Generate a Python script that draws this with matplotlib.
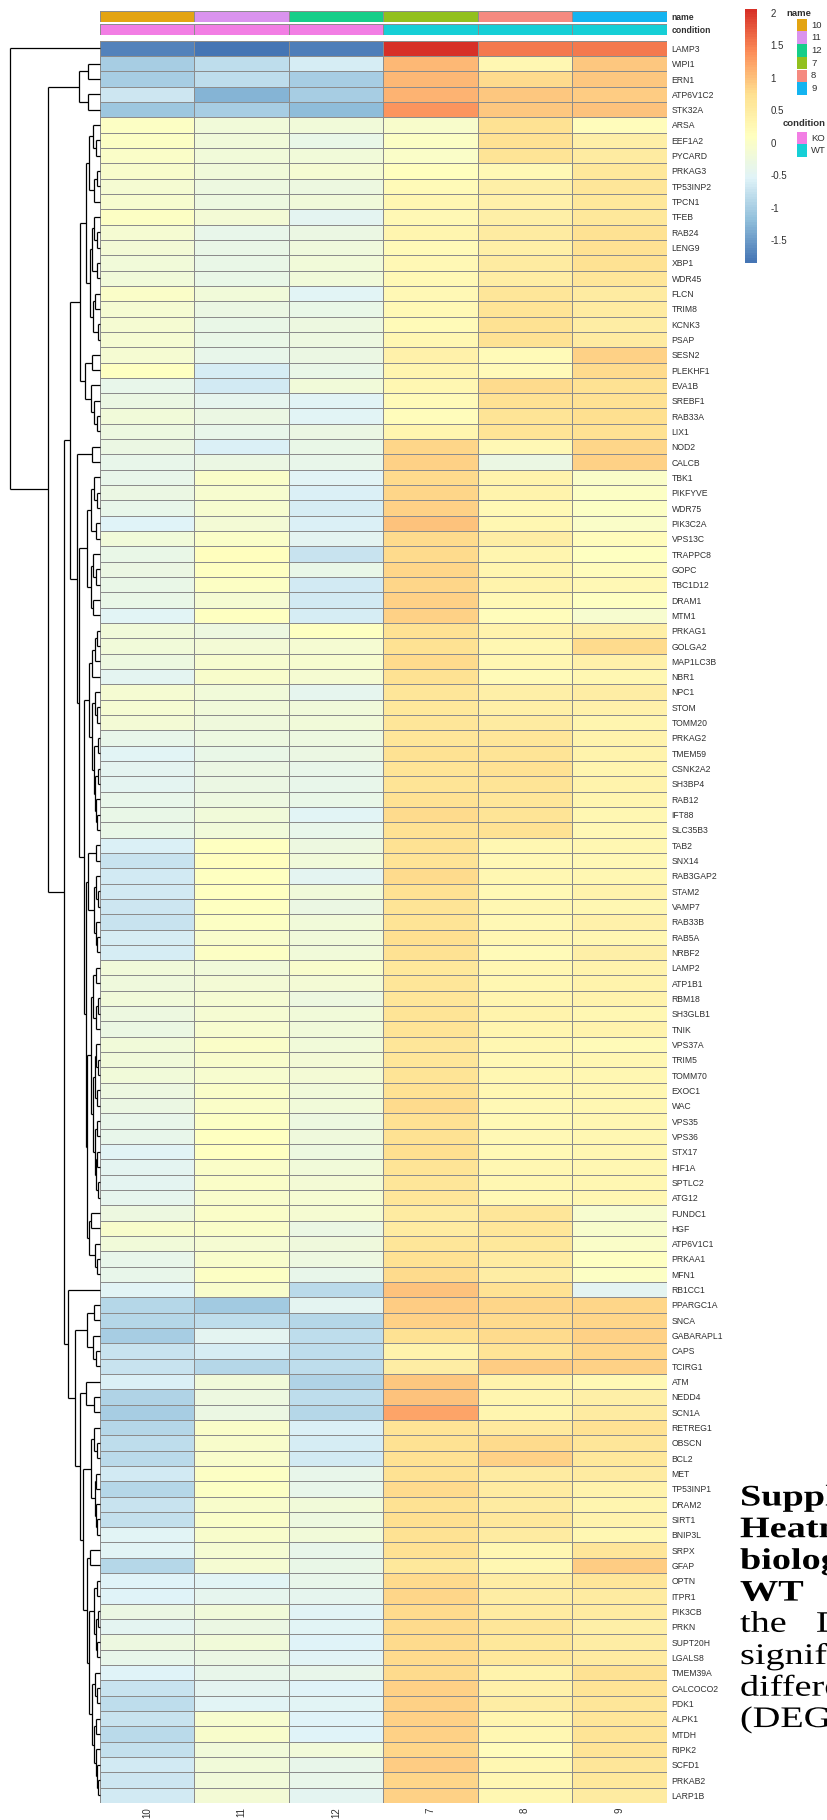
import numpy as np
import matplotlib
matplotlib.use("Agg")
import matplotlib.pyplot as plt
from matplotlib import patheffects
from matplotlib.colors import LinearSegmentedColormap, ListedColormap, Normalize
from matplotlib.cm import ScalarMappable
from matplotlib.patches import Rectangle
from matplotlib.transforms import Affine2D

plt.rcParams["font.family"] = ["Liberation Sans", "DejaVu Sans"]

genes = [
    "LAMP3", "WIPI1", "ERN1", "ATP6V1C2", "STK32A", "ARSA", "EEF1A2", "PYCARD",
    "PRKAG3", "TP53INP2", "TPCN1", "TFEB", "RAB24", "LENG9", "XBP1", "WDR45",
    "FLCN", "TRIM8", "KCNK3", "PSAP", "SESN2", "PLEKHF1", "EVA1B", "SREBF1",
    "RAB33A", "LIX1", "NOD2", "CALCB", "TBK1", "PIKFYVE", "WDR75", "PIK3C2A",
    "VPS13C", "TRAPPC8", "GOPC", "TBC1D12", "DRAM1", "MTM1", "PRKAG1", "GOLGA2",
    "MAP1LC3B", "NBR1", "NPC1", "STOM", "TOMM20", "PRKAG2", "TMEM59", "CSNK2A2",
    "SH3BP4", "RAB12", "IFT88", "SLC35B3", "TAB2", "SNX14", "RAB3GAP2", "STAM2",
    "VAMP7", "RAB33B", "RAB5A", "NRBF2", "LAMP2", "ATP1B1", "RBM18", "SH3GLB1",
    "TNIK", "VPS37A", "TRIM5", "TOMM70", "EXOC1", "WAC", "VPS35", "VPS36",
    "STX17", "HIF1A", "SPTLC2", "ATG12", "FUNDC1", "HGF", "ATP6V1C1", "PRKAA1",
    "MFN1", "RB1CC1", "PPARGC1A", "SNCA", "GABARAPL1", "CAPS", "TCIRG1", "ATM",
    "NEDD4", "SCN1A", "RETREG1", "OBSCN", "BCL2", "MET", "TP53INP1", "DRAM2",
    "SIRT1", "BNIP3L", "SRPX", "GFAP", "OPTN", "ITPR1", "PIK3CB", "PRKN",
    "SUPT20H", "LGALS8", "TMEM39A", "CALCOCO2", "PDK1", "ALPK1", "MTDH", "RIPK2",
    "SCFD1", "PRKAB2", "LARP1B",
]

samples = ["10", "11", "12", "7", "8", "9"]
name_colors = ["#E3A412", "#DA93EE", "#16CE89", "#92C01E", "#F58A80", "#14B4F0"]
conditions = ["KO", "KO", "KO", "WT", "WT", "WT"]
condition_levels = ["KO", "WT"]
condition_colors = ["#F27EE4", "#16CFD6"]

# expression per sample column, rows in gene order
s10 = [-1.7, -1.0, -1.0, -0.7, -1.1, 0.05, 0.05, 0.0, -0.05, -0.1,
       -0.08, 0.05, -0.12, -0.15, -0.18, -0.2, 0.0, -0.1, -0.1, -0.12,
       -0.1, 0.08, -0.38, -0.32, -0.18, -0.28, -0.3, -0.4, -0.38, -0.32,
       -0.38, -0.55, -0.2, -0.33, -0.32, -0.35, -0.35, -0.5, -0.18, -0.2,
       -0.28, -0.45, -0.1, -0.12, -0.15, -0.38, -0.5, -0.48, -0.45, -0.4,
       -0.35, -0.35, -0.58, -0.72, -0.66, -0.67, -0.7, -0.72, -0.63, -0.6,
       -0.18, -0.22, -0.2, -0.28, -0.32, -0.18, -0.18, -0.2, -0.25, -0.3,
       -0.38, -0.4, -0.5, -0.48, -0.45, -0.42, -0.25, -0.02, -0.2, -0.4,
       -0.4, -0.5, -0.9, -0.9, -1.0, -0.75, -0.75, -0.57, -0.92, -1.0,
       -0.9, -0.82, -0.85, -0.67, -0.88, -0.72, -0.78, -0.5, -0.5, -0.88,
       -0.55, -0.55, -0.3, -0.48, -0.28, -0.4, -0.55, -0.73, -0.8, -0.75,
       -0.85, -0.77, -0.65, -0.7, -0.67]
s11 = [-1.85, -0.8, -0.8, -1.3, -1.0, -0.2, -0.2, -0.2, -0.2, -0.28,
       -0.28, -0.15, -0.4, -0.35, -0.35, -0.33, -0.2, -0.3, -0.33, -0.35,
       -0.38, -0.62, -0.65, -0.42, -0.32, -0.37, -0.58, -0.32, 0.0, -0.08,
       -0.08, -0.15, 0.0, 0.12, 0.1, 0.05, -0.1, 0.08, -0.28, -0.15,
       -0.08, -0.05, -0.18, -0.18, -0.22, -0.28, -0.33, -0.3, -0.32, -0.28,
       -0.2, -0.18, 0.1, 0.12, 0.08, 0.1, 0.08, 0.05, -0.05, 0.05,
       -0.2, -0.15, -0.1, -0.1, -0.08, 0.0, -0.02, -0.08, 0.0, 0.0,
       0.05, 0.07, 0.07, 0.0, 0.0, -0.02, 0.0, 0.0, -0.1, -0.02,
       0.05, -0.05, -1.05, -0.82, -0.48, -0.6, -0.88, -0.2, -0.28, -0.3,
       0.0, -0.05, -0.02, 0.05, 0.05, -0.02, 0.0, -0.02, -0.12, -0.1,
       -0.52, -0.42, -0.2, -0.32, -0.2, -0.3, -0.4, -0.48, -0.52, -0.08,
       -0.02, -0.2, -0.18, -0.18, -0.15]
s12 = [-1.75, -0.6, -1.0, -1.0, -1.2, -0.2, -0.35, -0.2, -0.12, -0.28,
       -0.2, -0.48, -0.3, -0.22, -0.2, -0.2, -0.5, -0.35, -0.25, -0.28,
       -0.32, -0.35, -0.2, -0.5, -0.5, -0.3, -0.33, -0.37, -0.5, -0.57,
       -0.6, -0.57, -0.48, -0.72, -0.35, -0.65, -0.67, -0.6, 0.07, -0.12,
       -0.08, -0.12, -0.42, -0.18, -0.2, -0.28, -0.32, -0.37, -0.37, -0.33,
       -0.5, -0.4, -0.28, -0.18, -0.48, -0.18, -0.3, -0.18, -0.2, -0.2,
       -0.05, -0.15, -0.28, -0.2, -0.18, -0.18, -0.15, -0.15, -0.2, -0.18,
       -0.28, -0.22, -0.28, -0.18, -0.15, -0.12, -0.1, -0.3, -0.22, -0.28,
       -0.4, -0.85, -0.48, -0.9, -0.8, -0.82, -0.82, -0.95, -0.8, -0.88,
       -0.57, -0.63, -0.67, -0.37, -0.4, -0.2, -0.28, -0.18, -0.37, -0.33,
       -0.37, -0.42, -0.5, -0.5, -0.55, -0.5, -0.4, -0.55, -0.52, -0.55,
       -0.55, -0.18, -0.4, -0.4, -0.48]
s7 = [2.06, 1.05, 1.05, 1.1, 1.35, -0.05, 0.05, 0.0, 0.12, 0.2,
      0.3, 0.25, 0.32, 0.22, 0.25, 0.23, 0.25, 0.23, 0.22, 0.28,
      0.38, 0.32, 0.27, 0.22, 0.18, 0.32, 0.82, 0.87, 0.8, 0.83,
      0.87, 1.0, 0.8, 0.77, 0.82, 0.82, 0.85, 0.88, 0.7, 0.72,
      0.8, 0.72, 0.62, 0.6, 0.62, 0.62, 0.72, 0.68, 0.68, 0.7,
      0.77, 0.72, 0.7, 0.68, 0.8, 0.7, 0.68, 0.68, 0.75, 0.72,
      0.6, 0.62, 0.65, 0.68, 0.68, 0.62, 0.62, 0.68, 0.72, 0.77,
      0.72, 0.7, 0.75, 0.68, 0.65, 0.62, 0.5, 0.52, 0.62, 0.7,
      0.77, 0.97, 0.92, 0.85, 0.7, 0.35, 0.47, 0.95, 1.0, 1.2,
      0.68, 0.7, 0.72, 0.72, 0.77, 0.72, 0.75, 0.72, 0.7, 0.6,
      0.8, 0.82, 0.8, 0.8, 0.8, 0.8, 0.8, 0.85, 0.87, 0.85,
      0.87, 0.82, 0.92, 0.83, 0.85]
s8 = [1.55, 0.3, 0.8, 0.95, 0.95, 0.7, 0.72, 0.68, 0.25, 0.45,
      0.4, 0.42, 0.52, 0.45, 0.5, 0.47, 0.65, 0.68, 0.72, 0.7,
      0.2, 0.2, 0.8, 0.7, 0.68, 0.68, 0.25, -0.3, 0.35, 0.35,
      0.25, 0.28, 0.48, 0.32, 0.32, 0.35, 0.25, 0.18, 0.35, 0.28,
      0.27, 0.22, 0.45, 0.45, 0.52, 0.65, 0.68, 0.72, 0.68, 0.62,
      0.68, 0.7, 0.27, 0.25, 0.27, 0.25, 0.27, 0.25, 0.28, 0.22,
      0.28, 0.28, 0.32, 0.35, 0.32, 0.27, 0.23, 0.28, 0.27, 0.25,
      0.25, 0.23, 0.25, 0.27, 0.27, 0.25, 0.65, 0.62, 0.6, 0.5,
      0.47, 0.72, 0.82, 0.77, 0.77, 0.68, 0.92, 0.35, 0.32, 0.32,
      0.55, 0.8, 0.85, 0.5, 0.52, 0.52, 0.58, 0.5, 0.3, 0.27,
      0.47, 0.48, 0.52, 0.62, 0.58, 0.58, 0.35, 0.4, 0.47, 0.32,
      0.3, 0.18, 0.28, 0.27, 0.27]
s9 = [1.55, 0.95, 0.95, 0.9, 1.0, 0.15, 0.45, 0.5, 0.6, 0.62,
      0.58, 0.6, 0.7, 0.72, 0.7, 0.62, 0.5, 0.5, 0.47, 0.52,
      0.85, 0.8, 0.72, 0.72, 0.75, 0.72, 0.82, 0.85, 0.0, 0.05,
      0.05, 0.0, 0.18, 0.07, 0.18, 0.25, 0.08, -0.08, 0.45, 0.77,
      0.38, 0.3, 0.47, 0.4, 0.32, 0.35, 0.35, 0.32, 0.35, 0.32,
      0.28, 0.25, 0.27, 0.23, 0.27, 0.35, 0.3, 0.38, 0.3, 0.45,
      0.35, 0.35, 0.35, 0.3, 0.35, 0.22, 0.28, 0.3, 0.28, 0.3,
      0.28, 0.3, 0.28, 0.3, 0.3, 0.3, -0.08, -0.02, 0.0, 0.08,
      0.05, -0.48, 0.82, 0.83, 0.87, 0.83, 0.85, 0.23, 0.45, 0.5,
      0.7, 0.62, 0.58, 0.5, 0.35, 0.32, 0.35, 0.27, 0.62, 0.9,
      0.62, 0.52, 0.5, 0.45, 0.47, 0.5, 0.72, 0.68, 0.62, 0.62,
      0.68, 0.68, 0.62, 0.58, 0.5]

# row clustering: "(a,b)h" = merge of a and b at height h, leaves are 1-based row numbers
tree_2_5 = "((2,3)12,(4,5)12)21"
tree_6_20 = "(((6,(7,8)4)7,((9,10)3,11)6)11,(((12,(13,14)3)6,(15,16)3)8,((17,18)5,(19,20)2)7)10)14"
tree_21_26 = "((21,22)8,(23,(24,(25,26)3)6)9)15"
tree_29_38 = "(((29,(30,31)3)6,(32,33)4)9,((34,(35,36)4)7,(37,38)7)9)13"
tree_39_52 = "((((39,40)3,41)5,42)8,((43,(44,45)3)5,((46,47)2,((48,49)2,(50,(51,52)3)4)5)6)8)11"
tree_53_60 = "((53,54)4,((55,(56,57)2)4,(58,(59,60)3)4)6)12"
tree_61_81 = ("((((61,62)4,((63,64)2,65)4)7,(((66,(67,68)2)4,(69,70)3)5,"
              "((71,72)3,((73,74)3,(75,76)2)4)5)7)9,((77,78)9,(79,(80,81)3)5)11)13")
tree_83_90 = "(((83,84)6,(85,(86,87)4)7)13,((88,(89,90)6)14,"
tree_91_115 = ("(((91,(92,93)3)6,((94,95)4,(96,(97,98)3)4)5)9,((99,100)10,"
               "(((101,102)3,((103,104)2,(105,106)3)4)6,((107,(108,109)3)5,"
               "((110,111)4,(112,(113,(114,115)2)3)4)6)8)11)13)17")

group_a = (f"(({tree_6_20},{tree_21_26})20,((27,28)8,({tree_29_38},"
           f"({tree_39_52},({tree_53_60},{tree_61_81})14)16)21)23)30")
group_b = f"(82,{tree_83_90}{tree_91_115})20)25)32"
row_tree = f"(1,({tree_2_5},({group_a},{group_b})36)52)90"

caption = [
    ("Supplementary Figure S3.", True),
    ("Heatmap of autophagy-related genes", True),
    ("biological replicates of KO and", True),
    ("WT", True),
    ("the", False),
    ("significantly", False),
    ("differentially expressed genes", False),
    ("(DEGs).", False),
]


def parse_tree(text):
    text = text.replace(" ", "")
    pos = 0

    def number():
        nonlocal pos
        start = pos
        while pos < len(text) and (text[pos].isdigit() or text[pos] == "."):
            pos += 1
        return text[start:pos]

    def node():
        nonlocal pos
        if text[pos] == "(":
            pos += 1
            kids = [node()]
            while text[pos] == ",":
                pos += 1
                kids.append(node())
            pos += 1
            return (float(number()), kids)
        return int(number())

    return node()


class WideText(patheffects.AbstractPathEffect):
    """Stretch glyphs horizontally about a fixed left edge."""

    def __init__(self, x0, sx):
        super().__init__()
        self.x0, self.sx = x0, sx

    def draw_path(self, renderer, gc, tpath, affine, rgbFace=None):
        stretch = Affine2D().translate(-self.x0, 0).scale(self.sx, 1).translate(self.x0, 0)
        renderer.draw_path(gc, tpath, affine + stretch, rgbFace)


W, H = 827, 1820
fig = plt.figure(figsize=(W / 100, H / 100), dpi=100)


def add_px_axes(x0, y0, x1, y1):
    return fig.add_axes([x0 / W, 1 - y1 / H, (x1 - x0) / W, (y1 - y0) / H])


mat = np.column_stack([s10, s11, s12, s7, s8, s9])
n_rows, n_cols = mat.shape
cmap = LinearSegmentedColormap.from_list(
    "rdylbu_r",
    ["#4575B4", "#91BFDB", "#E0F3F8", "#FFFFBF", "#FEE090", "#FC8D59", "#D73027"],
    N=100)
norm = Normalize(vmin=mat.min(), vmax=mat.max())
grid_col = "#8c8c8c"
text_col = "#303030"

hx0, hx1, hy0, hy1 = 100, 666.7, 40.7, 1803

# heatmap body
ax = add_px_axes(hx0, hy0, hx1, hy1)
ax.pcolormesh(np.arange(n_cols + 1), np.arange(n_rows + 1), mat, cmap=cmap, norm=norm,
              edgecolors=grid_col, linewidth=0.7)
ax.set_xlim(0, n_cols)
ax.set_ylim(n_rows, 0)
for sp in ax.spines.values():
    sp.set_visible(False)
ax.yaxis.tick_right()
ax.set_yticks(np.arange(n_rows) + 0.5, genes, fontsize=6.2, color=text_col)
ax.set_xticks(np.arange(n_cols) + 0.5, samples, rotation=90, fontsize=7, color=text_col)
ax.tick_params(axis="y", length=0, pad=3.5)
ax.tick_params(axis="x", length=0, pad=3)

# column annotation bars
name_codes = [samples.index(s) for s in samples]
cond_codes = [condition_levels.index(c) for c in conditions]
for (y0, y1), codes, colors, title in [
        ((11, 22), name_codes, name_colors, "name"),
        ((24, 35), cond_codes, condition_colors, "condition")]:
    bar = add_px_axes(hx0, y0, hx1, y1)
    bar.pcolormesh(np.arange(n_cols + 1), [0, 1], [codes], cmap=ListedColormap(colors),
                   vmin=-0.5, vmax=len(colors) - 0.5, edgecolors=grid_col, linewidth=0.6)
    bar.set_xlim(0, n_cols)
    bar.set_ylim(0, 1)
    for sp in bar.spines.values():
        sp.set_visible(False)
    bar.set_xticks([])
    bar.yaxis.tick_right()
    bar.set_yticks([0.5], [title], fontsize=6.2, fontweight="bold", color=text_col)
    bar.tick_params(axis="y", length=0, pad=3.5)

# row dendrogram
tree = parse_tree(row_tree)
dax = add_px_axes(10, hy0, hx0, hy1)


def draw_node(node):
    if isinstance(node, int):
        return node - 0.5, 0.0
    h, kids = node
    pts = [draw_node(k) for k in kids]
    for y, ch in pts:
        dax.plot([ch, h], [y, y], color="black", lw=0.9, clip_on=False,
                 solid_capstyle="butt")
    ys = [p[0] for p in pts]
    dax.plot([h, h], [min(ys), max(ys)], color="black", lw=0.9, clip_on=False,
             solid_capstyle="butt")
    return (min(ys) + max(ys)) / 2, h


draw_node(tree)
dax.set_xlim(tree[0], 0)
dax.set_ylim(n_rows, 0)
dax.axis("off")

# colour key
cax = add_px_axes(745, 9, 757, 263)
cb = fig.colorbar(ScalarMappable(norm=norm, cmap=cmap), cax=cax)
cb.outline.set_visible(False)
ticks = [-1.5, -1, -0.5, 0, 0.5, 1, 1.5, 2]
cb.set_ticks(ticks, labels=[f"{t:g}" for t in ticks])
cax.tick_params(length=0, pad=9.5, labelsize=7, labelcolor=text_col)

# annotation legends
lax = fig.add_axes([0, 0, 1, 1])
lax.set_xlim(0, W)
lax.set_ylim(H, 0)
lax.axis("off")
box_h = 12.7
lax.text(786, 13, "name", fontsize=6.8, fontweight="bold", va="center", color=text_col)
for k, (lab, col) in enumerate(zip(samples, name_colors)):
    top = 18.7 + k * box_h
    lax.add_patch(Rectangle((797, top), 10, box_h, facecolor=col, edgecolor="none"))
    lax.text(811, top + box_h / 2, lab, fontsize=6.8, va="center", color=text_col)
lax.text(783, 123, "condition", fontsize=6.8, fontweight="bold", va="center", color=text_col)
for k, (lab, col) in enumerate(zip(condition_levels, condition_colors)):
    top = 131.7 + k * box_h
    lax.add_patch(Rectangle((797, top), 10, box_h, facecolor=col, edgecolor="none"))
    lax.text(811, top + box_h / 2, lab, fontsize=6.8, va="center", color=text_col)

# figure caption beside the heatmap (runs past the right edge)
cap_x, cap_y0, cap_dy, cap_sx = 740, 1498, 31.7, 1.28
px = fig.dpi / 100
for k, (line, bold) in enumerate(caption):
    lax.text(cap_x, cap_y0 + k * cap_dy, line, fontsize=21.5, family="Liberation Serif",
             fontweight="bold" if bold else "normal", va="center", color="black",
             path_effects=[WideText(cap_x * px, cap_sx)])
lax.text(816, cap_y0 + 4 * cap_dy, "DEGs", fontsize=21.5, family="Liberation Serif",
         va="center", color="black", path_effects=[WideText(816 * px, cap_sx)])

fig.savefig("out.png", dpi=100)
